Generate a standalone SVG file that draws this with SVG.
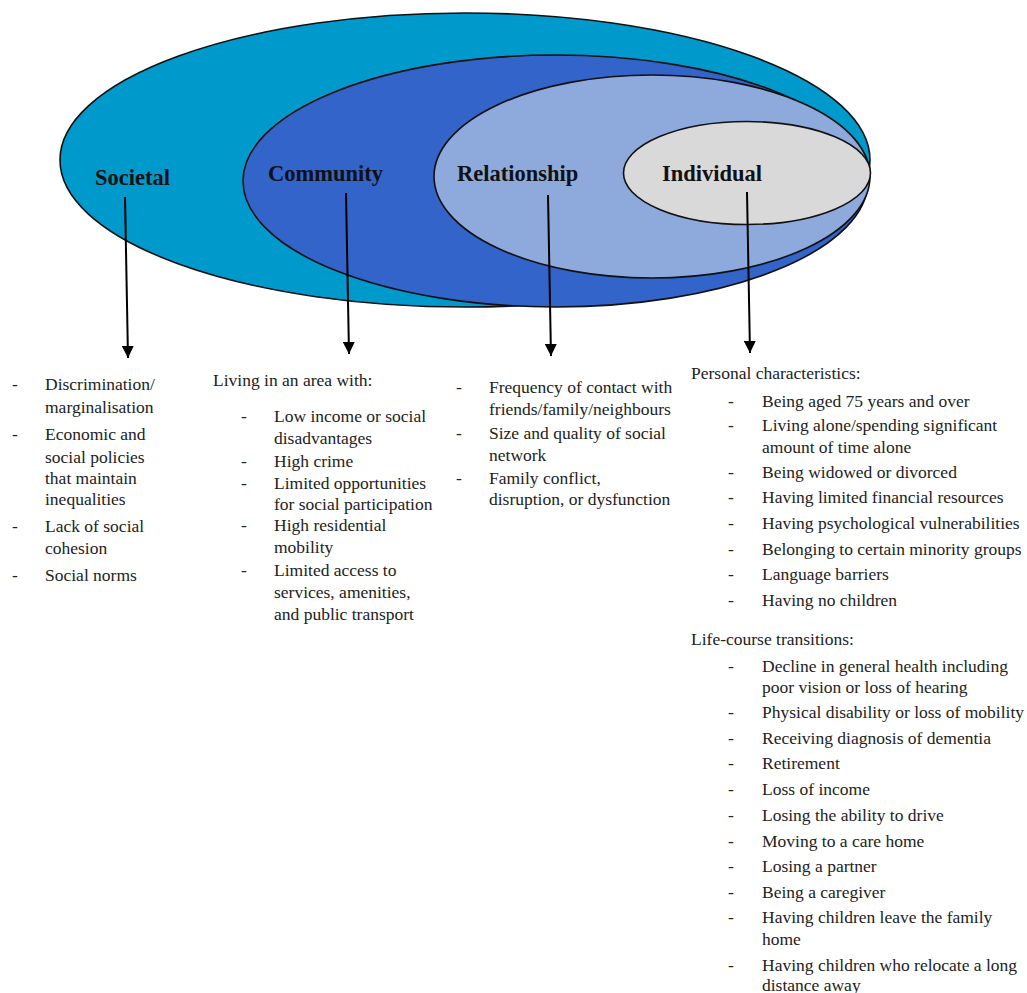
<svg xmlns="http://www.w3.org/2000/svg" width="1027" height="993" viewBox="0 0 1027 993">
<defs>
<style>
.lbl{font-family:"Liberation Serif","Times New Roman",serif;font-weight:bold;font-size:22.5px;fill:#111}
.t{font-family:"Liberation Serif","Times New Roman",serif;font-size:17.5px;fill:#222}
.ring{stroke:#111;stroke-width:1.6}
.conn{stroke:#000;stroke-width:2;fill:none}
</style>
<marker id="ah" viewBox="0 0 12 12" refX="12" refY="6" markerWidth="12" markerHeight="12" markerUnits="userSpaceOnUse" orient="auto">
<path d="M0,0 L12,6 L0,12 z" fill="#000"/>
</marker>
</defs>
<rect width="1027" height="993" fill="#fff"/>
<g id="societal">
<ellipse class="ring" cx="465" cy="160" rx="405" ry="147" fill="#0099CC"/>
<text class="lbl" x="95" y="185">Societal</text>
</g>
<g id="community">
<ellipse class="ring" cx="555.5" cy="181" rx="312.5" ry="126" fill="#3264CA"/>
<text class="lbl" x="268" y="181">Community</text>
</g>
<g id="relationship">
<ellipse class="ring" cx="652" cy="176.5" rx="218" ry="101.5" fill="#8EAADC"/>
<text class="lbl" x="457" y="181">Relationship</text>
</g>
<g id="individual">
<ellipse class="ring" cx="747" cy="173" rx="123.5" ry="51.5" fill="#D9D9D9"/>
<text class="lbl" x="662" y="181">Individual</text>
</g>
<g id="connectors">
<line class="conn" x1="125" y1="197" x2="128" y2="358" marker-end="url(#ah)"/>
<line class="conn" x1="346" y1="193" x2="349" y2="354" marker-end="url(#ah)"/>
<line class="conn" x1="548" y1="195" x2="551" y2="356" marker-end="url(#ah)"/>
<line class="conn" x1="747" y1="192" x2="750" y2="353" marker-end="url(#ah)"/>
</g>
<g id="societal-factors" class="t">
<text x="12" y="390">-</text><text x="45" y="390">Discrimination/</text>
<text x="45" y="413">marginalisation</text>
<text x="12" y="440">-</text><text x="45" y="440">Economic and</text>
<text x="45" y="463">social policies</text>
<text x="45" y="484">that maintain</text>
<text x="45" y="505">inequalities</text>
<text x="12" y="532">-</text><text x="45" y="532">Lack of social</text>
<text x="45" y="554">cohesion</text>
<text x="12" y="581">-</text><text x="45" y="581">Social norms</text>
</g>
<g id="community-factors" class="t">
<text x="213" y="386">Living in an area with:</text>
<text x="241" y="422">-</text><text x="274" y="422">Low income or social</text>
<text x="274" y="444">disadvantages</text>
<text x="241" y="467">-</text><text x="274" y="467">High crime</text>
<text x="241" y="489">-</text><text x="274" y="489">Limited opportunities</text>
<text x="274" y="510">for social participation</text>
<text x="241" y="531">-</text><text x="274" y="531">High residential</text>
<text x="274" y="553">mobility</text>
<text x="241" y="576">-</text><text x="274" y="576">Limited access to</text>
<text x="274" y="598">services, amenities,</text>
<text x="274" y="620">and public transport</text>
</g>
<g id="relationship-factors" class="t">
<text x="456" y="393">-</text><text x="489" y="393">Frequency of contact with</text>
<text x="489" y="415">friends/family/neighbours</text>
<text x="456" y="439">-</text><text x="489" y="439">Size and quality of social</text>
<text x="489" y="461">network</text>
<text x="456" y="484">-</text><text x="489" y="484">Family conflict,</text>
<text x="489" y="505">disruption, or dysfunction</text>
</g>
<g id="individual-factors" class="t">
<text x="691" y="379">Personal characteristics:</text>
<text x="728" y="407">-</text><text x="762" y="407">Being aged 75 years and over</text>
<text x="728" y="431">-</text><text x="762" y="431">Living alone/spending significant</text>
<text x="762" y="453">amount of time alone</text>
<text x="728" y="478">-</text><text x="762" y="478">Being widowed or divorced</text>
<text x="728" y="503">-</text><text x="762" y="503">Having limited financial resources</text>
<text x="728" y="529">-</text><text x="762" y="529">Having psychological vulnerabilities</text>
<text x="728" y="555">-</text><text x="762" y="555">Belonging to certain minority groups</text>
<text x="728" y="580">-</text><text x="762" y="580">Language barriers</text>
<text x="728" y="606">-</text><text x="762" y="606">Having no children</text>
<text x="691" y="645">Life-course transitions:</text>
<text x="728" y="672">-</text><text x="762" y="672">Decline in general health including</text>
<text x="762" y="693">poor vision or loss of hearing</text>
<text x="728" y="718">-</text><text x="762" y="718">Physical disability or loss of mobility</text>
<text x="728" y="744">-</text><text x="762" y="744">Receiving diagnosis of dementia</text>
<text x="728" y="769">-</text><text x="762" y="769">Retirement</text>
<text x="728" y="795">-</text><text x="762" y="795">Loss of income</text>
<text x="728" y="821">-</text><text x="762" y="821">Losing the ability to drive</text>
<text x="728" y="847">-</text><text x="762" y="847">Moving to a care home</text>
<text x="728" y="872">-</text><text x="762" y="872">Losing a partner</text>
<text x="728" y="898">-</text><text x="762" y="898">Being a caregiver</text>
<text x="728" y="923">-</text><text x="762" y="923">Having children leave the family</text>
<text x="762" y="945">home</text>
<text x="728" y="971">-</text><text x="762" y="971">Having children who relocate a long</text>
<text x="762" y="991">distance away</text>
</g>
</svg>
